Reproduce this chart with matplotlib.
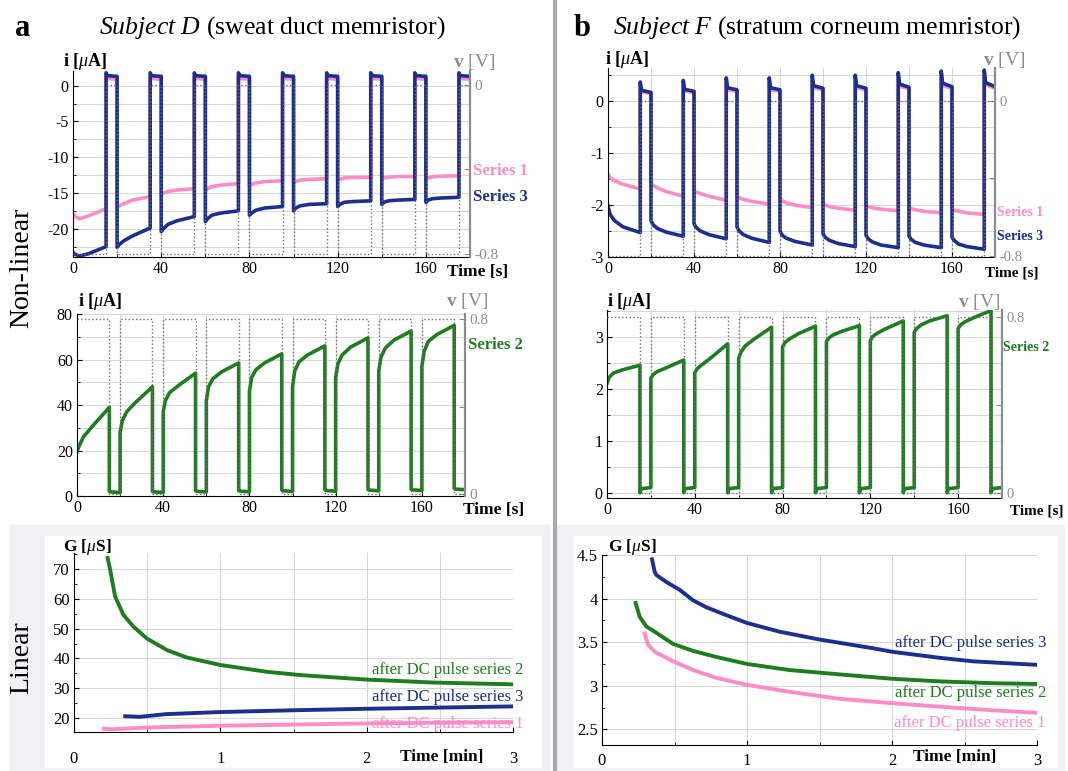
import matplotlib
matplotlib.use("Agg")
import matplotlib.pyplot as plt
from matplotlib.patches import Rectangle
from matplotlib.lines import Line2D
from matplotlib.ticker import MultipleLocator, FixedLocator, FuncFormatter

plt.rcParams['font.family'] = ['Liberation Serif', 'DejaVu Serif']
plt.rcParams['mathtext.fontset'] = 'custom'
plt.rcParams['mathtext.rm'] = 'Liberation Serif'
plt.rcParams['mathtext.it'] = 'Liberation Serif:italic'
plt.rcParams['mathtext.bf'] = 'Liberation Serif:bold'
plt.rcParams['axes.unicode_minus'] = False

# ---- pulse timing (s) ----
pulse_starts = [0, 20, 40, 60, 80, 100, 120, 140, 160]
on_len = 15
period = 20
on_offsets = [0, 1, 3, 7, 15]     # sample points inside each pulse
off_offsets = [0, 0.6, 5]         # sample points in each pause

# ---- Subject D, series 1 / 3 (i in uA, pulse at -0.8 V) ----
a_s1_on = [[-17.9, -18.3, -18.6, -18.2, -17.2],
           [-17.0, -16.8, -16.5, -16.0, -15.5],
           [-15.3, -15.0, -14.8, -14.6, -14.4],
           [-14.7, -14.4, -14.1, -13.9, -13.7],
           [-14.0, -13.8, -13.6, -13.4, -13.3],
           [-13.6, -13.4, -13.2, -13.1, -13.0],
           [-13.3, -13.1, -12.9, -12.85, -12.8],
           [-13.1, -12.9, -12.8, -12.7, -12.7],
           [-13.1, -12.9, -12.75, -12.65, -12.6]]
a_s1_off = [1.2, 1.0, 0.9]
a_s3_on = [[-23.3, -23.6, -23.8, -23.5, -22.5],
           [-22.6, -22.2, -21.7, -21.0, -19.9],
           [-20.4, -20.0, -19.4, -18.9, -18.3],
           [-19.0, -18.6, -18.1, -17.8, -17.5],
           [-18.1, -17.8, -17.4, -17.1, -16.9],
           [-17.5, -17.1, -16.8, -16.6, -16.5],
           [-16.9, -16.6, -16.3, -16.2, -16.1],
           [-16.6, -16.3, -16.1, -16.0, -15.9],
           [-16.3, -16.0, -15.8, -15.7, -15.6]]
a_s3_off = [1.8, 1.4, 1.3]

# ---- Subject D, series 2 (pulse at +0.8 V) ----
a_s2_on = [[19.5, 22, 26, 30.5, 39],
           [28, 33, 37, 41, 48],
           [37, 42, 45.5, 48.5, 54],
           [42, 48, 51.5, 54.5, 58.5],
           [46, 52, 55.5, 58.5, 62.5],
           [48, 55, 59, 62, 66],
           [52, 58, 62, 65.5, 69.5],
           [55, 61, 65, 68.5, 72.5],
           [57, 63.5, 68, 71, 75]]
a_s2_off = [[2.0, 1.8, 1.5], [2.0, 1.8, 1.6], [2.3, 2.0, 1.8],
            [2.4, 2.1, 1.9], [2.6, 2.3, 2.0], [2.7, 2.4, 2.1],
            [2.9, 2.6, 2.3], [3.0, 2.7, 2.4], [3.3, 3.0, 2.8]]

# ---- Subject F, series 1 / 3 ----
b_s1_on = [[-1.40, -1.47, -1.53, -1.60, -1.69],
           [-1.58, -1.62, -1.67, -1.74, -1.83],
           [-1.72, -1.75, -1.78, -1.83, -1.91],
           [-1.83, -1.86, -1.89, -1.93, -1.98],
           [-1.88, -1.92, -1.96, -2.00, -2.05],
           [-1.97, -2.00, -2.03, -2.06, -2.10],
           [-2.01, -2.03, -2.05, -2.08, -2.11],
           [-2.05, -2.07, -2.09, -2.12, -2.15],
           [-2.08, -2.10, -2.12, -2.15, -2.18]]
b_s1_off = [[0.30, 0.18, 0.15], [0.32, 0.20, 0.17], [0.35, 0.22, 0.19],
            [0.35, 0.22, 0.19], [0.40, 0.26, 0.22], [0.40, 0.26, 0.22],
            [0.45, 0.29, 0.24], [0.45, 0.30, 0.25], [0.48, 0.32, 0.25]]
b_s3_on = [[-2.02, -2.18, -2.30, -2.42, -2.53],
           [-2.30, -2.38, -2.45, -2.52, -2.60],
           [-2.36, -2.43, -2.50, -2.57, -2.65],
           [-2.42, -2.50, -2.57, -2.64, -2.72],
           [-2.50, -2.58, -2.64, -2.70, -2.77],
           [-2.55, -2.62, -2.68, -2.74, -2.80],
           [-2.58, -2.65, -2.71, -2.77, -2.82],
           [-2.60, -2.66, -2.72, -2.77, -2.82],
           [-2.62, -2.68, -2.75, -2.80, -2.85]]
b_s3_off = [[0.37, 0.21, 0.17], [0.40, 0.23, 0.19], [0.45, 0.26, 0.22],
            [0.45, 0.26, 0.22], [0.50, 0.30, 0.25], [0.50, 0.30, 0.25],
            [0.55, 0.33, 0.27], [0.58, 0.35, 0.28], [0.60, 0.36, 0.28]]

# ---- Subject F, series 2 ----
b_s2_on = [[2.10, 2.22, 2.30, 2.36, 2.45],
           [2.20, 2.27, 2.33, 2.40, 2.55],
           [2.30, 2.38, 2.45, 2.58, 2.86],
           [2.58, 2.70, 2.82, 2.95, 3.18],
           [2.80, 2.88, 2.95, 3.05, 3.20],
           [2.90, 2.97, 3.03, 3.10, 3.21],
           [2.92, 3.00, 3.06, 3.15, 3.30],
           [3.08, 3.15, 3.22, 3.30, 3.40],
           [3.15, 3.22, 3.28, 3.36, 3.50]]
b_s2_off = [0.0, 0.08, 0.10]

# ---- linear regime, conductance G (uS) vs time (min) ----
a_g2_t = [0.23, 0.247, 0.281, 0.338, 0.406, 0.498, 0.635, 0.772, 1.0, 1.32, 1.55, 2.0, 2.46, 3.0]
a_g2 = [73.7, 69.8, 60.8, 54.6, 50.7, 46.7, 42.8, 40.3, 37.8, 35.5, 34.4, 32.9, 31.9, 31.3]
a_g3_t = [0.35, 0.45, 0.63, 1.0, 1.5, 2.0, 2.5, 3.0]
a_g3 = [20.6, 20.4, 21.3, 22.0, 22.6, 23.1, 23.5, 23.9]
a_g1_t = [0.205, 0.25, 0.5, 1.0, 1.5, 2.0, 2.5, 3.0]
a_g1 = [16.4, 16.2, 16.8, 17.4, 17.8, 18.2, 18.4, 18.6]

b_g3_t = [0.345, 0.363, 0.375, 0.444, 0.536, 0.628, 0.72, 0.857, 1.0, 1.225, 1.501, 1.869, 2.0, 2.329, 2.559, 2.995]
b_g3 = [4.45, 4.31, 4.27, 4.19, 4.10, 3.98, 3.90, 3.81, 3.72, 3.62, 3.53, 3.43, 3.39, 3.32, 3.28, 3.24]
b_g2_t = [0.232, 0.26, 0.306, 0.363, 0.49, 0.628, 0.789, 1.0, 1.294, 1.639, 2.0, 2.329, 2.674, 2.995]
b_g2 = [3.95, 3.79, 3.68, 3.62, 3.48, 3.40, 3.33, 3.25, 3.18, 3.13, 3.08, 3.05, 3.03, 3.02]
b_g1_t = [0.294, 0.317, 0.363, 0.49, 0.628, 0.789, 1.0, 1.294, 1.639, 2.0, 2.329, 2.674, 2.995]
b_g1 = [3.60, 3.47, 3.39, 3.28, 3.18, 3.09, 3.01, 2.93, 2.85, 2.80, 2.76, 2.72, 2.69]

PINK = '#ff8cc6'
NAVY = '#1c2f8c'
GREEN = '#1e7d1e'
GRAY = '#8c8c8c'
GRID = '#d6d6d6'
TICK = 11.5

W, H = 1068, 771
fig = plt.figure(figsize=(W / 100, H / 100), dpi=100)


def rect(l, t, r, b):
    return [l / W, 1 - b / H, (r - l) / W, (b - t) / H]


def put(x, y, s, **kw):
    kw.setdefault('va', 'center')
    fig.text(x / W, 1 - y / H, s, **kw)


def pulse_trace(on_vals, off_vals):
    t, y = [], []
    for k, t0 in enumerate(pulse_starts):
        for dt, v in zip(on_offsets, on_vals[k]):
            t.append(t0 + dt)
            y.append(v)
        off = off_vals[k] if isinstance(off_vals[0], list) else off_vals
        for dt, v in zip(off_offsets, off):
            t.append(t0 + on_len + dt)
            y.append(v)
    return t, y


def volt_trace(v_on, v_off):
    t, v = [], []
    for t0 in pulse_starts:
        t += [t0, t0 + on_len, t0 + on_len, t0 + period]
        v += [v_on, v_on, v_off, v_off]
    return t, v


def pulse_axes(box, ylim, ymaj, ymin, vlim, vticks, vlabels, vsize):
    ax = fig.add_axes(rect(*box))
    ax.set_xlim(0, 180)
    ax.set_ylim(*ylim)
    ax.xaxis.set_major_locator(FixedLocator([0, 40, 80, 120, 160]))
    ax.xaxis.set_minor_locator(MultipleLocator(20))
    ax.yaxis.set_major_locator(MultipleLocator(ymaj))
    ax.yaxis.set_minor_locator(MultipleLocator(ymin))
    ax.yaxis.set_major_formatter(FuncFormatter(lambda v, p: '%g' % v))
    ax.grid(True, which='both', color=GRID, lw=0.7)
    ax.set_axisbelow(True)
    ax.tick_params(which='both', direction='in', labelsize=TICK, pad=3)
    ax.tick_params(which='minor', length=2.5)
    ax.spines['top'].set_visible(False)
    ax.spines['right'].set_visible(False)
    axv = ax.twinx()
    axv.set_ylim(*vlim)
    axv.set_yticks(vticks)
    axv.set_yticklabels(vlabels)
    axv.tick_params(direction='in', colors=GRAY, labelsize=vsize, length=4, pad=3)
    axv.spines['right'].set_color(GRAY)
    axv.spines['right'].set_linewidth(1.6)
    for s in ['top', 'left', 'bottom']:
        axv.spines[s].set_visible(False)
    return ax, axv


def g_axes(box, ylim, ymaj, ymin, xpad):
    ax = fig.add_axes(rect(*box))
    ax.set_xlim(0, 3)
    ax.set_ylim(*ylim)
    ax.xaxis.set_major_locator(MultipleLocator(1))
    ax.xaxis.set_minor_locator(MultipleLocator(0.5))
    ax.yaxis.set_major_locator(MultipleLocator(ymaj))
    ax.yaxis.set_minor_locator(MultipleLocator(ymin))
    ax.yaxis.set_major_formatter(FuncFormatter(lambda v, p: '%g' % v))
    ax.grid(True, which='major', color=GRID, lw=0.7)
    ax.grid(True, which='minor', axis='x', color=GRID, lw=0.7)
    ax.set_axisbelow(True)
    ax.tick_params(which='both', direction='in', labelsize=12, pad=3)
    ax.tick_params(axis='x', pad=xpad)
    ax.tick_params(which='minor', length=2.5)
    ax.spines['top'].set_visible(False)
    ax.spines['right'].set_visible(False)
    return ax


# background panels for the linear row and the separator
fig.patches.append(Rectangle((9 / W, 0), 542 / W, 1 - 525 / H, transform=fig.transFigure,
                             facecolor='#f0f0f5', edgecolor='none', zorder=-10))
fig.patches.append(Rectangle((557 / W, 0), 508 / W, 1 - 525 / H, transform=fig.transFigure,
                             facecolor='#f0f0f5', edgecolor='none', zorder=-10))
fig.patches.append(Rectangle((45 / W, 3 / H), 497 / W, 1 - 539 / H, transform=fig.transFigure,
                             facecolor='white', edgecolor='none', zorder=-9))
fig.patches.append(Rectangle((574 / W, 3 / H), 484 / W, 1 - 539 / H, transform=fig.transFigure,
                             facecolor='white', edgecolor='none', zorder=-9))
fig.lines.append(Line2D([555 / W, 555 / W], [0, 1], transform=fig.transFigure,
                        color='#a9a9a9', lw=3))

LW = 2.6

# ---- a, top: series 1 and 3 ----
ax, axv = pulse_axes((73, 71, 470, 257), (-23.95, 2.05), 5, 2.5,
                     (-0.816, 0.068), [-0.8, -0.4, 0], ['-0.8', '', '0'], 11)
t, y = pulse_trace(a_s1_on, a_s1_off)
ax.plot(t, y, color=PINK, lw=LW)
t, y = pulse_trace(a_s3_on, a_s3_off)
ax.plot(t, y, color=NAVY, lw=LW)
t, v = volt_trace(-0.8, 0)
axv.plot(t, v, color='#6e6e6e', lw=1.0, ls=':')

# ---- a, middle: series 2 ----
ax, axv = pulse_axes((77, 314, 465, 496), (0, 80), 20, 10,
                     (-0.01, 0.824), [0, 0.4, 0.8], ['0', '', '0.8'], 11)
t, y = pulse_trace(a_s2_on, a_s2_off)
ax.plot(t, y, color=GREEN, lw=LW)
t, v = volt_trace(0.8, 0)
axv.plot(t, v, color='#6e6e6e', lw=1.0, ls=':')

# ---- b, top ----
ax, axv = pulse_axes((608, 68, 995, 257), (-3.0, 0.64), 1, 0.5,
                     (-0.805, 0.17), [-0.8, -0.4, 0], ['-0.8', '', '0'], 10.5)
t, y = pulse_trace(b_s1_on, b_s1_off)
ax.plot(t, y, color=PINK, lw=LW)
t, y = pulse_trace(b_s3_on, b_s3_off)
ax.plot(t, y, color=NAVY, lw=LW)
t, v = volt_trace(-0.8, 0)
axv.plot(t, v, color='#6e6e6e', lw=1.0, ls=':')

# ---- b, middle ----
ax, axv = pulse_axes((607, 310, 1002, 498), (-0.1, 3.51), 1, 0.5,
                     (-0.023, 0.83), [0, 0.4, 0.8], ['0', '', '0.8'], 10.5)
t, y = pulse_trace(b_s2_on, b_s2_off)
ax.plot(t, y, color=GREEN, lw=LW)
t, v = volt_trace(0.8, 0)
axv.plot(t, v, color='#6e6e6e', lw=1.0, ls=':')

# ---- linear row ----
ax = g_axes((74, 553, 513, 732), (15.3, 75.4), 10, 5, 14)
ax.plot(a_g1_t, a_g1, color=PINK, lw=2.8)
ax.plot(a_g3_t, a_g3, color=NAVY, lw=2.8)
ax.plot(a_g2_t, a_g2, color=GREEN, lw=2.8)

ax = g_axes((602, 555, 1037, 745), (2.32, 4.5), 0.5, 0.25, 6)
ax.plot(b_g1_t, b_g1, color=PINK, lw=2.8)
ax.plot(b_g2_t, b_g2, color=GREEN, lw=2.8)
ax.plot(b_g3_t, b_g3, color=NAVY, lw=2.8)

# ---- texts ----
put(23, 28, 'a', fontsize=22, fontweight='bold', ha='center')
put(272, 28, r'$\mathit{Subject\ D}$ (sweat duct memristor)', fontsize=18.5, ha='center')
put(582, 28, 'b', fontsize=22, fontweight='bold', ha='center')
put(817, 28, r'$\mathit{Subject\ F}$ (stratum corneum memristor)', fontsize=18.5, ha='center')

put(22, 268, 'Non-linear', fontsize=20, rotation=90, ha='center')
put(22, 658, 'Linear', fontsize=20, rotation=90, ha='center')

ylab = r'i [$\mu$A]'
vlab = r'$\mathbf{v}$ [V]'
put(63, 62, ylab, fontsize=13, fontweight='bold')
put(474, 62, vlab, fontsize=14, color=GRAY, ha='center')
put(473, 171, 'Series 1', fontsize=12, fontweight='bold', color=PINK)
put(473, 197, 'Series 3', fontsize=12, fontweight='bold', color=NAVY)
put(447, 272, 'Time [s]', fontsize=12.5, fontweight='bold')

put(78, 302, ylab, fontsize=13, fontweight='bold')
put(467, 301, vlab, fontsize=14, color=GRAY, ha='center')
put(468, 345, 'Series 2', fontsize=12, fontweight='bold', color=GREEN)
put(463, 510, 'Time [s]', fontsize=12.5, fontweight='bold')

put(605, 60, ylab, fontsize=13, fontweight='bold')
put(1004, 60, vlab, fontsize=14, color=GRAY, ha='center')
put(997, 213, 'Series 1', fontsize=10, fontweight='bold', color=PINK)
put(997, 237, 'Series 3', fontsize=10, fontweight='bold', color=NAVY)
put(985, 273, 'Time [s]', fontsize=11, fontweight='bold')

put(607, 302, ylab, fontsize=13, fontweight='bold')
put(979, 302, vlab, fontsize=14, color=GRAY, ha='center')
put(1003, 348, 'Series 2', fontsize=10, fontweight='bold', color=GREEN)
put(1010, 511, 'Time [s]', fontsize=11, fontweight='bold')

glab = r'G [$\mu$S]'
put(63, 547, glab, fontsize=12.5, fontweight='bold')
put(523, 670, 'after DC pulse series 2', fontsize=12, color=GREEN, ha='right')
put(523, 697, 'after DC pulse series 3', fontsize=12, color=NAVY, ha='right')
put(523, 724, 'after DC pulse series 1', fontsize=12, color=PINK, ha='right')
put(400, 757, 'Time [min]', fontsize=12.5, fontweight='bold')

put(608, 547, glab, fontsize=12.5, fontweight='bold')
put(1046, 643, 'after DC pulse series 3', fontsize=12, color=NAVY, ha='right')
put(1046, 693, 'after DC pulse series 2', fontsize=12, color=GREEN, ha='right')
put(1046, 723, 'after DC pulse series 1', fontsize=12, color=PINK, ha='right')
put(913, 757, 'Time [min]', fontsize=12.5, fontweight='bold')

fig.savefig('out.png', dpi=100)
